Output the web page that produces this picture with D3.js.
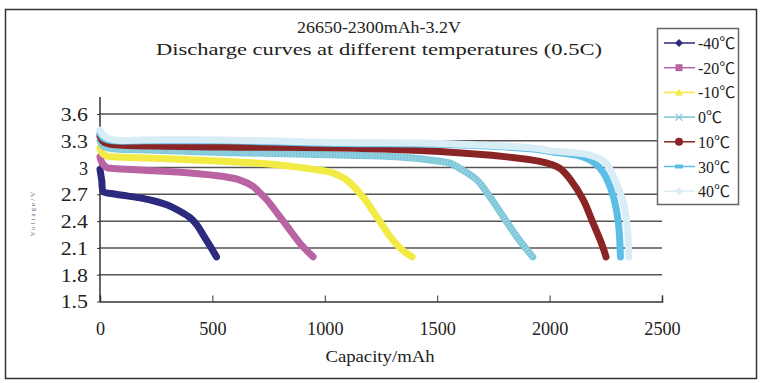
<!DOCTYPE html>
<html>
<head>
<meta charset="utf-8">
<script src="https://cdn.jsdelivr.net/npm/d3@7"></script>
<style>
    body { margin: 0; background: #fff; }
    text { font-family: "Liberation Serif", "Noto Sans CJK SC", serif; fill: #222; }
</style>
</head>
<body>
<div id="chart"></div>
<script>
// discharge curves, capacity in mAh / voltage in V
const seriesNames = ['-40℃', '-20℃', '-10℃', '0℃', '10℃', '30℃', '40℃'];

const capM40 = [0, 8, 15, 50, 100, 178, 250, 300, 356, 400, 430, 458, 490, 518];
const voltM40 = [2.98, 2.85, 2.73, 2.71, 2.69, 2.66, 2.62, 2.58, 2.51, 2.44, 2.36, 2.25, 2.12, 2.00];

const capM20 = [0, 10, 30, 60, 200, 400, 550, 623, 681, 710, 742, 800, 845, 890, 948];
const voltM20 = [3.12, 3.05, 3.00, 2.99, 2.97, 2.94, 2.90, 2.86, 2.79, 2.72, 2.64, 2.45, 2.30, 2.15, 2.00];

const capM10 = [0, 10, 30, 103, 300, 548, 800, 979, 1023, 1098, 1170, 1231, 1290, 1343, 1388];
const voltM10 = [3.22, 3.16, 3.13, 3.115, 3.10, 3.07, 3.03, 2.97, 2.95, 2.86, 2.67, 2.45, 2.23, 2.08, 2.00];

const cap0 = [0, 15, 60, 178, 548, 1068, 1320, 1512, 1557, 1601, 1677, 1735, 1794, 1853, 1925];
const volt0 = [3.30, 3.24, 3.21, 3.20, 3.17, 3.14, 3.12, 3.07, 3.05, 2.99, 2.86, 2.67, 2.45, 2.23, 2.00];

const cap10 = [0, 15, 50, 103, 548, 1068, 1512, 1810, 1957, 2002, 2046, 2091, 2149, 2193, 2231, 2251];
const volt10 = [3.35, 3.29, 3.26, 3.25, 3.23, 3.22, 3.18, 3.12, 3.07, 3.04, 2.99, 2.87, 2.64, 2.38, 2.15, 2.00];

const cap30 = [0, 15, 60, 200, 548, 1068, 1512, 1957, 2002, 2149, 2200, 2240, 2284, 2306, 2315];
const volt30 = [3.38, 3.33, 3.30, 3.30, 3.30, 3.27, 3.26, 3.20, 3.18, 3.12, 3.05, 2.94, 2.67, 2.38, 2.00];

const cap40 = [0, 15, 60, 200, 548, 1068, 1512, 1957, 2002, 2180, 2250, 2284, 2329, 2347, 2352];
const volt40 = [3.42, 3.36, 3.31, 3.31, 3.31, 3.28, 3.27, 3.21, 3.19, 3.14, 3.05, 2.90, 2.60, 2.30, 2.00];

const xTicks = [0, 500, 1000, 1500, 2000, 2500];
const yTicks = [1.5, 1.8, 2.1, 2.4, 2.7, 3, 3.3, 3.6];

const colors = ['#2b2a7e', '#b963a3', '#f2ea45', '#7cc6d9', '#8b2424', '#5cbde6', '#d9edf6'];
const markers = ['diamond', 'square', 'triangle', 'cross', 'circle', 'dash', 'diamond'];

{
    let width = 765, height = 383;
    let charW = 9.1; // the source font is a fixed-width one

    let series = [
        [capM40, voltM40], [capM20, voltM20], [capM10, voltM10], [cap0, volt0],
        [cap10, volt10], [cap30, volt30], [cap40, volt40]
    ].map((s, i) => ({
        name: seriesNames[i],
        color: colors[i],
        marker: markers[i],
        points: s[0].map((c, j) => [c, s[1][j]])
    }));

    let svg = d3.select('#chart').append('svg')
        .attr('width', width)
        .attr('height', height);

    // outer frame
    svg.append('rect')
        .attr('x', 5.5).attr('y', 9.5)
        .attr('width', 751).attr('height', 369)
        .attr('fill', '#fff')
        .attr('stroke', '#333')
        .attr('stroke-width', 1.5);

    let x = d3.scaleLinear().domain([0, 2500]).range([100, 662]);
    let y = d3.scaleLinear().domain([1.5, 3.6]).range([301.5, 114]);

    function monoText(sel, size) {
        sel.style('font-size', size + 'px')
            .attr('textLength', function () { return this.textContent.length * charW; })
            .attr('lengthAdjust', 'spacingAndGlyphs');
    }

    // titles
    svg.append('text')
        .attr('x', 379).attr('y', 33)
        .attr('text-anchor', 'middle')
        .text('26650-2300mAh-3.2V')
        .call(monoText, 17);
    svg.append('text')
        .attr('x', 379).attr('y', 55)
        .attr('text-anchor', 'middle')
        .text('Discharge curves at different temperatures (0.5C)')
        .call(monoText, 17);

    // gridlines
    svg.append('g')
        .selectAll('line')
        .data(yTicks.filter(d => d > 1.5))
        .enter()
        .append('line')
        .attr('x1', x(0)).attr('x2', x(2500))
        .attr('y1', d => y(d)).attr('y2', d => y(d))
        .attr('stroke', '#555')
        .attr('stroke-width', 1.5);

    // y axis
    let yAxis = svg.append('g')
        .attr('transform', `translate(${x(0)},0)`)
        .call(d3.axisLeft(y).tickValues(yTicks).tickSize(3).tickFormat(d => d3.format('.1f')(d).replace(/\.0$/, '')));
    yAxis.select('.domain').remove();
    yAxis.selectAll('line').attr('stroke', '#333');
    yAxis.selectAll('text')
        .attr('x', -12)
        .attr('dy', '0.36em')
        .style('font-family', '"Liberation Serif", serif')
        .call(monoText, 18);
    svg.append('line')
        .attr('x1', x(0)).attr('x2', x(0))
        .attr('y1', 97).attr('y2', y(1.5))
        .attr('stroke', '#333').attr('stroke-width', 1.5);

    // x axis, ticks point inward
    let xAxis = svg.append('g')
        .attr('transform', `translate(0,${y(1.5)})`)
        .call(d3.axisTop(x).tickValues(xTicks).tickSize(6).tickFormat(d3.format('d')));
    xAxis.select('.domain').attr('stroke', '#333').attr('stroke-width', 1.5);
    xAxis.selectAll('line').attr('stroke', '#333');
    xAxis.selectAll('text')
        .attr('y', 0)
        .attr('dy', 0)
        .attr('transform', 'translate(0,33)')
        .style('font-family', '"Liberation Serif", serif')
        .call(monoText, 18);

    svg.append('text')
        .attr('x', 380).attr('y', 362)
        .attr('text-anchor', 'middle')
        .text('Capacity/mAh')
        .call(monoText, 17);

    // faint y title
    svg.append('text')
        .attr('transform', 'translate(35,213) rotate(-90)')
        .attr('text-anchor', 'middle')
        .style('font-size', '7px')
        .style('letter-spacing', '2px')
        .style('fill', '#667')
        .text('Voltage/V');

    // curves
    let line = d3.line()
        .x(d => x(d[0]))
        .y(d => y(d[1]))
        .curve(d3.curveCatmullRom.alpha(0.5));

    let curves = svg.append('g');
    series.forEach(s => {
        curves.append('path')
            .datum(s.points)
            .attr('fill', 'none')
            .attr('stroke', s.color)
            .attr('stroke-width', 7)
            .attr('stroke-linecap', 'round')
            .attr('stroke-linejoin', 'round')
            .attr('d', line);
        if (s.marker === 'cross') {
            // cross hatch texture of the 0℃ markers
            curves.append('path')
                .datum(s.points)
                .attr('fill', 'none')
                .attr('stroke', '#fff')
                .attr('stroke-opacity', 0.3)
                .attr('stroke-width', 5)
                .attr('stroke-dasharray', '1 2')
                .attr('d', line);
        }
    });

    // legend
    let legend = svg.append('g');
    legend.append('rect')
        .attr('x', 657.5).attr('y', 28.5)
        .attr('width', 81).attr('height', 176)
        .attr('fill', '#fff')
        .attr('stroke', '#666')
        .attr('stroke-width', 1.5);

    let item = legend.selectAll('g.item')
        .data(series)
        .enter()
        .append('g')
        .attr('class', 'item')
        .attr('transform', (d, i) => `translate(0,${43 + i * 24.7})`);

    item.append('line')
        .attr('x1', 664).attr('x2', 695)
        .attr('stroke', d => d.color)
        .attr('stroke-width', 1.5);

    item.each(function (d) {
        let g = d3.select(this);
        let cx = 679;
        if (d.marker === 'diamond') {
            g.append('path').attr('d', `M${cx},-4L${cx + 4},0L${cx},4L${cx - 4},0Z`).attr('fill', d.color);
        } else if (d.marker === 'square') {
            g.append('rect').attr('x', cx - 3.5).attr('y', -3.5).attr('width', 7).attr('height', 7).attr('fill', d.color);
        } else if (d.marker === 'triangle') {
            g.append('path').attr('d', `M${cx},-4L${cx + 4},3L${cx - 4},3Z`).attr('fill', d.color);
        } else if (d.marker === 'cross') {
            g.append('path').attr('d', `M${cx - 3.5},-3.5L${cx + 3.5},3.5M${cx - 3.5},3.5L${cx + 3.5},-3.5`)
                .attr('stroke', d.color).attr('stroke-width', 1.3);
        } else if (d.marker === 'circle') {
            g.append('circle').attr('cx', cx).attr('r', 4).attr('fill', d.color);
        } else if (d.marker === 'dash') {
            g.append('rect').attr('x', cx - 4).attr('y', -2).attr('width', 8).attr('height', 4).attr('fill', d.color);
        }
    });

    item.append('text')
        .attr('x', 698)
        .attr('y', 6)
        .style('font-size', '16px')
        .text(d => d.name);
}
</script>
</body>
</html>
